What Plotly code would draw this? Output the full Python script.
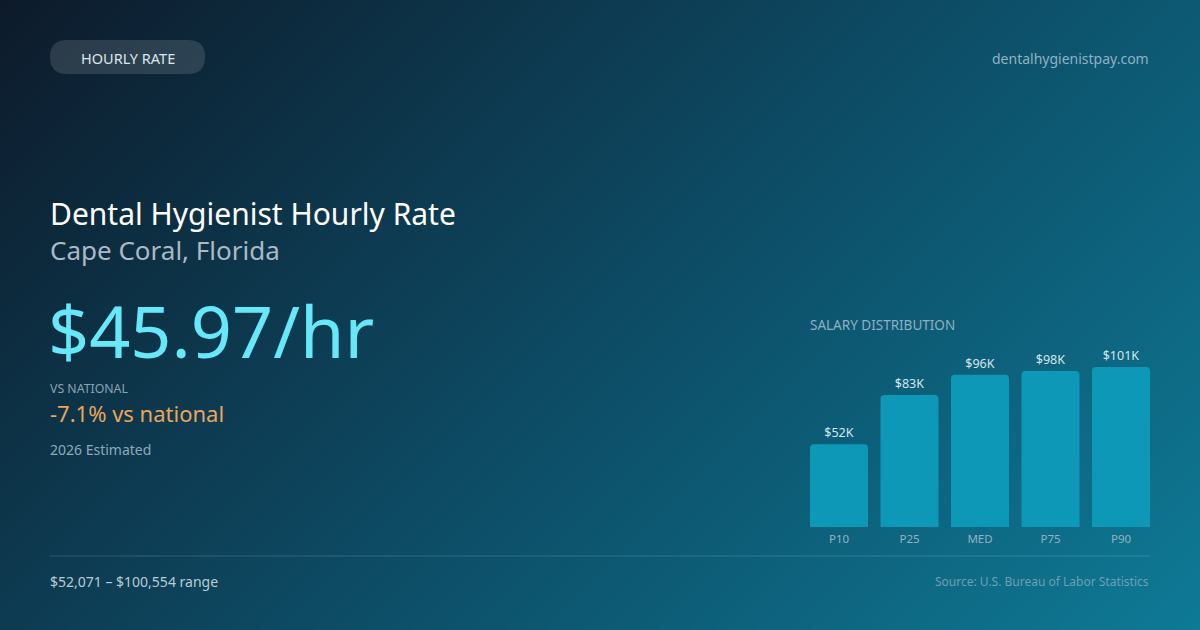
import plotly.graph_objects as go

W, H = 1200, 630

# ---- data ----
percentiles = ["P10", "P25", "MED", "P75", "P90"]
salaries = [52071, 83000, 95618, 98000, 100554]
bar_labels = [f"${v/1000:.0f}K" for v in salaries]

badge_text = "HOURLY RATE"
site_text = "dentalhygienistpay.com"
title_text = "Dental Hygienist Hourly Rate"
location_text = "Cape Coral, Florida"
hourly_text = "$45.97/hr"
vs_label = "VS NATIONAL"
vs_text = "-7.1% vs national"
year_text = "2026 Estimated"
range_text = "$52,071 – $100,554 range"
source_text = "Source: U.S. Bureau of Labor Statistics"
chart_title = "SALARY DISTRIBUTION"

FONT = "Noto Sans"


def px(x):
    return x / W


def py(y):
    return 1 - y / H


fig = go.Figure()

# background gradient (135deg) via smooth heatmap
t_tl, t_tr, t_bl, t_br = 0.0, W / (W + H), H / (W + H), 1.0
fig.add_trace(go.Heatmap(
    x=[0, 1], y=[0, 1],
    z=[[t_bl, t_br], [t_tl, t_tr]],
    zmin=0, zmax=1, zsmooth="best", showscale=False, hoverinfo="skip",
    colorscale=[[0, "#0d1a2a"], [0.5, "#0d4a63"], [1, "#0e7a96"]],
    xaxis="x", yaxis="y",
))

# salary distribution bars
fig.add_trace(go.Bar(
    x=percentiles, y=salaries, text=bar_labels, textposition="outside",
    textfont=dict(family=FONT, size=12.5, color="#d3e6ee"),
    cliponaxis=False, marker=dict(color="#0c98b6", cornerradius=4, line=dict(width=0)),
    hoverinfo="skip", xaxis="x2", yaxis="y2",
))

ann = []


def add_text(text, x, y, size, color, xanchor="left", yanchor="middle"):
    ann.append(dict(text=text, x=px(x), y=py(y), xref="paper", yref="paper",
                    xanchor=xanchor, yanchor=yanchor, showarrow=False,
                    font=dict(family=FONT, size=size, color=color)))


add_text(badge_text, 127.5, 57.5, 14.5, "#dbe6ec", xanchor="center")
add_text(site_text, 1151, 58, 14, "#8fb2c4", xanchor="right")
add_text(title_text, 48, 213, 30, "#ffffff")
add_text(location_text, 48, 250, 26, "#a9bac6")
add_text(hourly_text, 46, 330, 72, "#67e8f9")
add_text(vs_label, 48, 388, 12.3, "#8ba3b2")
add_text(vs_text, 48, 413, 22, "#eca55a")
add_text(year_text, 48, 449, 14, "#8eaab8")
add_text(range_text, 48, 581, 14, "#b9cbd6")
add_text(source_text, 1151, 581, 12, "#6e9fb4", xanchor="right")
add_text(chart_title, 808, 325, 13.5, "#8db1c2")

shapes = [
    # badge pill
    dict(type="path", xref="paper", yref="paper",
         path=(f"M {px(67)} {py(40)} L {px(188)} {py(40)} "
               f"Q {px(205)} {py(40)} {px(205)} {py(57)} "
               f"Q {px(205)} {py(74)} {px(188)} {py(74)} "
               f"L {px(67)} {py(74)} "
               f"Q {px(50)} {py(74)} {px(50)} {py(57)} "
               f"Q {px(50)} {py(40)} {px(67)} {py(40)} Z"),
         fillcolor="rgba(255,255,255,0.13)", line=dict(width=0), layer="above"),
    # footer divider
    dict(type="line", xref="paper", yref="paper", x0=px(50), x1=px(1150),
         y0=py(556), y1=py(556), line=dict(color="rgba(255,255,255,0.16)", width=1)),
]

fig.update_layout(
    width=W, height=H, margin=dict(l=0, r=0, t=0, b=0),
    paper_bgcolor="#0d4a63", plot_bgcolor="rgba(0,0,0,0)",
    showlegend=False, bargap=0.177,
    xaxis=dict(domain=[0, 1], range=[0, 1], visible=False, fixedrange=True),
    yaxis=dict(domain=[0, 1], range=[0, 1], visible=False, fixedrange=True),
    xaxis2=dict(domain=[px(803.75), px(1156.25)], anchor="y2", showgrid=False,
                zeroline=False, showline=False, ticks="", ticklabelstandoff=3,
                tickfont=dict(family=FONT, size=11.5, color="#8fb4c4"), fixedrange=True),
    yaxis2=dict(domain=[py(527), py(527 - 120000 * 160 / 100554)], range=[0, 120000],
                anchor="x2", visible=False, showgrid=False, zeroline=False, fixedrange=True),
    annotations=ann, shapes=shapes,
)

fig.write_html("out.html", config={"displayModeBar": False, "staticPlot": True},
               post_script="document.body.style.margin='0';document.body.style.overflow='hidden';")
